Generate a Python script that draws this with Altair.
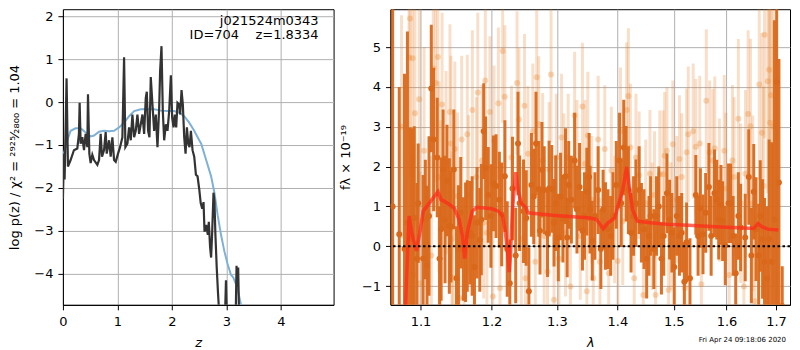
import altair as alt
import pandas as pd

FONT = "DejaVu Sans"

# ---------------- left panel: p(z) ----------------
pz_z = [0.000, 0.018, 0.031, 0.067, 0.092, 0.141, 0.202, 0.264, 0.294, 0.307,
        0.325, 0.356, 0.387, 0.417, 0.448, 0.460, 0.485, 0.509, 0.540, 0.571,
        0.632, 0.663, 0.693, 0.718, 0.755, 0.785, 0.804, 0.847, 0.877, 0.908,
        0.939, 0.969, 1.012, 1.049, 1.092, 1.123, 1.147, 1.184, 1.215, 1.245,
        1.276, 1.307, 1.337, 1.368, 1.399, 1.429, 1.460, 1.491, 1.521, 1.540,
        1.564, 1.589, 1.613, 1.644, 1.675, 1.706, 1.736, 1.767, 1.785, 1.810,
        1.834, 1.859, 1.890, 1.920, 1.951, 1.982, 2.006, 2.031, 2.055, 2.080,
        2.104, 2.135, 2.153, 2.178, 2.202, 2.227, 2.252, 2.276, 2.301, 2.325,
        2.350, 2.380, 2.411, 2.442, 2.472, 2.503, 2.530, 2.558, 2.582, 2.600,
        2.630, 2.661, 2.679, 2.703, 2.721, 2.739, 2.765, 2.782, 2.800, 2.824,
        2.848, 2.873, 2.950, 2.980, 2.994, 3.010, 3.050, 3.160, 3.175, 3.188,
        3.200, 3.218, 3.235, 3.300]
pz_logp = [-2.26, -1.20, -1.80, 0.55, -1.50, -1.35, -1.12, -1.08, -0.74, -0.02,
           -0.97, -0.82, -1.12, -0.74, -1.05, 0.18, -1.20, -1.42, -1.23, -1.35,
           -1.46, -1.35, -0.74, -1.27, -1.12, -0.70, -1.20, -0.89, -1.27, -0.82,
           -1.35, -1.39, -1.20, -1.05, -0.82, 1.04, -1.05, -0.97, -0.59, -0.89,
           -0.29, -0.82, -0.67, -0.29, -0.74, -0.52, -0.29, -0.74, 0.09, 0.24,
           -0.67, -0.82, 0.58, -0.06, -0.67, -0.29, -1.05, -0.14, 0.73, 1.30,
           -0.21, -0.89, -0.52, -0.67, -0.21, 0.62, -0.36, -0.59, -0.29, -0.59,
           -0.02, -0.06, -0.29, 0.28, -0.06, -0.82, -1.20, -0.59, -0.97, -1.05,
           -0.67, -1.12, -1.27, -1.69, -1.73, -2.03, -2.35, -2.48, -2.33, -3.02,
           -2.86, -3.09, -2.79, -3.39, -3.62, -3.09, -2.11, -2.30, -3.09, -3.85,
           -4.45, -5.00, -6.00, -4.80, -4.15, -5.00, -6.00, -6.00, -4.80, -3.81,
           -4.30, -3.85, -5.00, -6.00]

tmpl_z = [0.000, 0.018, 0.080, 0.141, 0.233, 0.325, 0.417, 0.509, 0.571, 0.663,
          0.755, 0.847, 0.939, 1.031, 1.123, 1.215, 1.307, 1.429, 1.552, 1.675,
          1.798, 1.920, 2.043, 2.135, 2.227, 2.319, 2.411, 2.503, 2.539, 2.630,
          2.721, 2.782, 2.842, 2.903, 2.964, 3.024, 3.085, 3.127, 3.176, 3.224,
          3.267, 3.350]
tmpl_logp = [-1.42, -1.20, -0.89, -0.67, -0.61, -0.61, -0.71, -0.80, -0.78, -0.69,
             -0.67, -0.68, -0.67, -0.59, -0.48, -0.33, -0.21, -0.17, -0.16, -0.17,
             -0.20, -0.21, -0.21, -0.25, -0.33, -0.48, -0.67, -0.89, -0.97, -1.35,
             -1.73, -2.11, -2.64, -3.09, -3.47, -3.77, -4.02, -4.08, -4.23, -4.45,
             -4.70, -5.40]

z_ticks = [0, 1, 2, 3, 4]
logp_ticks = [-4, -3, -2, -1, 0, 1, 2]
label_text = "j021524m0343\nID=704\u00a0\u00a0\u00a0\u00a0z=1.8334"

# ---------------- right panel: spectrum ----------------
dark_wave = [1.0632, 1.0718, 1.0787, 1.0826, 1.0861, 1.0891, 1.0917, 1.0953, 1.0970, 1.1036,
             1.1066, 1.1089, 1.1116, 1.1147, 1.1179, 1.1228, 1.1260, 1.1282, 1.1309, 1.1336,
             1.1363, 1.1396, 1.1418, 1.1459, 1.1496, 1.1524, 1.1556, 1.1593, 1.1625, 1.1649,
             1.1687, 1.1719, 1.1752, 1.1790, 1.1829, 1.1851, 1.1886, 1.1914, 1.1952, 1.1991,
             1.2029, 1.2067, 1.2116, 1.2150, 1.2198, 1.2233, 1.2272, 1.2312, 1.2361, 1.2396,
             1.2420, 1.2480, 1.2521, 1.2562, 1.2601, 1.2637, 1.2672, 1.2714, 1.2734, 1.2764,
             1.2800, 1.2852, 1.2877, 1.2919, 1.2955, 1.2981, 1.3023, 1.3059, 1.3096, 1.3138,
             1.3165, 1.3190, 1.3233, 1.3286, 1.3324, 1.3366, 1.3414, 1.3447, 1.3486, 1.3523,
             1.3539, 1.3576, 1.3620, 1.3674, 1.3719, 1.3757, 1.3797, 1.3840, 1.3885, 1.3924,
             1.3981, 1.4037, 1.4065, 1.4109, 1.4150, 1.4190, 1.4236, 1.4280, 1.4321, 1.4378,
             1.4418, 1.4464, 1.4511, 1.4552, 1.4581, 1.4639, 1.4687, 1.4728, 1.4776, 1.4817,
             1.4876, 1.4924, 1.4966, 1.5009, 1.5056, 1.5105, 1.5147, 1.5196, 1.5239, 1.5301,
             1.5411, 1.5454, 1.5497, 1.5547, 1.5598, 1.5660, 1.5703, 1.5767, 1.5811, 1.5849,
             1.5893, 1.5925, 1.5977, 1.6041, 1.6085, 1.6132, 1.6183, 1.6235, 1.6280, 1.6372,
             1.6444, 1.6496, 1.6544, 1.6590, 1.6644, 1.6676, 1.6724, 1.6764, 1.6817, 1.6858,
             1.6912, 1.6967, 1.7015, 1.7062, 1.7131]
dark_flux = [1.00, 0.30, -0.07, 0.59, 0.18, 0.26, 0.71, -0.31, 1.08, -0.31,
             0.67, -0.48, 0.76, 3.96, 2.68, 2.23, -0.31, 0.43, 1.93, 0.67,
             1.65, 0.51, 0.49, 1.93, -0.80, -0.07, 0.84, -0.07, 0.10, 0.26,
             0.34, 0.26, -0.52, 0.59, 0.16, 0.67, 2.89, 1.96, 1.29, 0.76,
             1.58, 1.51, 1.17, 0.80, 1.76, -0.07, -0.93, 1.45, -0.23, 2.58,
             1.08, 0.88, 0.71, -1.13, 1.54, 1.25, 2.58, 1.44, 0.39, 1.92,
             1.41, 0.33, 1.45, 1.44, 0.59, 1.08, 0.22, 1.25, 0.69, 1.76,
             0.22, 1.54, 1.17, 2.15, 0.92, 1.49, 0.39, 0.76, 1.37, 1.74,
             0.92, 0.14, 0.76, 1.41, -0.07, 0.92, 0.51, 0.43, 0.26, 0.76,
             1.54, 2.15, 1.08, 2.48, 1.82, 1.41, 0.34, 0.76, 1.08, 1.41,
             0.59, 0.43, -0.31, 0.26, 0.76, -0.07, 0.76, 1.00, -0.31, 0.26,
             1.33, 0.67, 0.34, -0.52, 0.76, 0.26, 0.34, -0.89, 0.10, -0.80,
             1.29, 0.26, 0.96, 0.30, 0.84, 1.49, 0.26, 1.33, 1.17, 0.67,
             1.04, 0.63, 0.02, 1.08, 1.08, 0.26, -0.68, 0.76, 0.47, 0.22,
             1.74, -0.23, 1.37, 0.43, -0.23, 0.76, 0.18, -0.39, -0.80, 0.18,
             -0.39, 0.67, 4.12, 1.60, -1.50]
dark_err = [6.0, 3.7, 4.4, 4.8, 2.8, 2.7, 2.3, 1.9, 1.5, 2.1,
            1.5, 2.0, 2.0, 1.6, 1.8, 1.5, 1.3, 1.8, 1.5, 1.6,
            1.4, 1.7, 1.4, 1.5, 1.3, 1.6, 1.4, 1.3, 1.5, 1.4,
            1.3, 1.5, 1.3, 1.4, 1.3, 1.4, 1.2, 1.3, 1.2, 1.3,
            1.2, 1.3, 1.2, 1.3, 1.4, 1.2, 1.1, 1.3, 1.2, 1.3,
            1.2, 1.3, 1.2, 1.1, 1.3, 1.2, 1.3, 1.2, 1.1, 1.2,
            1.1, 1.1, 1.2, 1.1, 1.1, 1.2, 1.1, 1.1, 1.1, 1.2,
            1.0, 1.1, 1.1, 1.2, 1.1, 1.1, 1.0, 1.1, 1.1, 1.1,
            1.1, 1.0, 1.1, 1.1, 1.0, 1.0, 1.1, 1.0, 1.0, 1.1,
            1.1, 1.2, 1.1, 1.2, 1.2, 1.1, 1.0, 1.0, 1.1, 1.1,
            1.0, 1.0, 1.0, 1.0, 1.0, 1.0, 1.0, 1.0, 0.9, 1.0,
            1.0, 1.0, 1.0, 1.0, 1.0, 1.0, 1.0, 1.0, 1.0, 1.0,
            1.0, 1.0, 1.0, 1.0, 1.0, 1.1, 1.0, 1.1, 1.0, 1.0,
            1.0, 1.0, 1.0, 1.0, 1.0, 1.0, 1.0, 1.1, 1.1, 1.1,
            1.2, 1.2, 1.2, 1.3, 1.3, 1.4, 1.5, 1.6, 1.8, 2.5,
            3.0, 5.0, 6.0, 3.1, 1.0]

light_wave = [1.0748, 1.0848, 1.0861, 1.0895, 1.0904, 1.0926, 1.0983, 1.0992, 1.1049, 1.1147,
              1.1174, 1.1206, 1.1237, 1.1251, 1.1274, 1.1295, 1.1350, 1.1404, 1.1418, 1.1432,
              1.1446, 1.1473, 1.1510, 1.1534, 1.1570, 1.1603, 1.1649, 1.1667, 1.1723, 1.1780,
              1.1800, 1.1861, 1.1886, 1.1909, 1.1933, 1.1976, 1.2020, 1.2038, 1.2102, 1.2125,
              1.2165, 1.2198, 1.2297, 1.2381, 1.2411, 1.2446, 1.2495, 1.2510, 1.2547, 1.2623,
              1.2661, 1.2683, 1.2714, 1.2775, 1.2800, 1.2852, 1.2877, 1.2908, 1.2955, 1.2992,
              1.3033, 1.3075, 1.3112, 1.3138, 1.3181, 1.3218, 1.3286, 1.3324, 1.3378, 1.3414,
              1.3458, 1.3486, 1.3502, 1.3567, 1.3593, 1.3674, 1.3703, 1.3785, 1.3852, 1.3897,
              1.3952, 1.4008, 1.4053, 1.4092, 1.4160, 1.4190, 1.4224, 1.4292, 1.4321, 1.4378,
              1.4452, 1.4494, 1.4569, 1.4609, 1.4651, 1.4669, 1.4746, 1.4805, 1.4834, 1.4876,
              1.4906, 1.4948, 1.4983, 1.5056, 1.5105, 1.5147, 1.5208, 1.5239, 1.5269, 1.5361,
              1.5411, 1.5486, 1.5516, 1.5610, 1.5674, 1.5735, 1.5773, 1.5862, 1.5957, 1.5988,
              1.6054, 1.6118, 1.6151, 1.6235, 1.6280, 1.6346, 1.6378, 1.6431, 1.6477, 1.6524,
              1.6564, 1.6656, 1.6710, 1.6744, 1.6764, 1.6831, 1.6858, 1.6878, 1.6899, 1.6948]
light_flux = [3.00, 4.74, 5.72, 4.72, -0.72, 3.34, 3.69, -0.93, 2.40, -0.23,
              4.47, 4.10, 4.75, 1.74, 0.76, 3.56, 2.10, 3.37, 2.58, 0.18,
              -0.79, 2.44, 1.26, -1.30, 2.68, -1.30, 2.81, 1.29, 3.42, 1.74,
              3.86, 2.15, 0.59, 4.16, 0.34, 3.37, -1.26, 2.64, 3.59, -1.05,
              4.90, 3.75, 2.23, 4.10, 3.18, 0.18, 3.53, -0.80, 2.32, 2.89,
              -0.39, 4.24, 3.07, 2.15, 0.26, -0.64, 1.92, 4.31, -1.34, 2.23,
              -0.31, 2.73, 1.74, 0.34, 2.23, -1.01, 3.28, 2.07, 0.26, 3.51,
              2.07, -1.13, 2.78, 1.17, -0.80, 2.68, -0.39, 2.44, -0.68, 1.90,
              0.67, -0.37, 2.89, 0.63, 3.42, 3.77, 2.48, -0.80, 2.23, 1.78,
              -1.22, 1.08, 1.82, 0.50, 1.29, -1.22, 1.81, 1.81, 2.27, 2.40,
              -1.10, 0.51, 2.56, 1.17, 2.19, 1.74, -1.05, 2.36, 2.81, 2.89,
              2.50, 2.58, -0.95, 3.65, 2.36, 2.15, 2.46, 1.41, 2.40, 1.45,
              -0.72, 2.15, 1.74, 3.20, 1.08, -1.01, 1.82, 3.32, 3.01, 1.08,
              -1.38, 4.06, 2.85, 1.51, 5.31, 4.14, 4.43, 3.10, 3.79, 3.00]
light_err = [2.8, 3.0, 3.0, 3.0, 3.0, 2.8, 2.8, 2.8, 2.6, 2.5,
             2.5, 2.5, 2.4, 2.4, 2.4, 2.3, 2.3, 2.2, 2.2, 2.2,
             2.2, 2.2, 2.1, 2.1, 2.1, 2.1, 2.0, 2.0, 2.0, 2.0,
             2.0, 1.9, 1.9, 1.9, 1.9, 1.9, 1.9, 1.9, 1.9, 1.8,
             1.8, 1.8, 1.8, 1.8, 1.8, 1.8, 1.8, 1.7, 1.7, 1.7,
             1.7, 1.7, 1.7, 1.7, 1.7, 1.7, 1.7, 1.7, 1.6, 1.6,
             1.6, 1.6, 1.6, 1.6, 1.6, 1.6, 1.6, 1.6, 1.6, 1.6,
             1.6, 1.6, 1.6, 1.6, 1.6, 1.6, 1.6, 1.6, 1.6, 1.6,
             1.6, 1.6, 1.6, 1.6, 1.7, 1.7, 1.6, 1.6, 1.6, 1.6,
             1.6, 1.6, 1.6, 1.6, 1.6, 1.6, 1.6, 1.6, 1.6, 1.6,
             1.6, 1.6, 1.6, 1.6, 1.6, 1.6, 1.6, 1.6, 1.7, 1.7,
             1.7, 1.7, 1.7, 1.8, 1.8, 1.8, 1.8, 1.8, 1.9, 1.9,
             1.9, 1.9, 2.0, 2.0, 2.0, 2.0, 2.1, 2.1, 2.2, 2.2,
             2.2, 2.4, 2.5, 2.5, 2.6, 2.8, 3.0, 3.2, 3.5, 4.0]

model_wave = [1.0790, 1.0848, 1.0891, 1.0947, 1.0992, 1.1036, 1.1102, 1.1237, 1.1281, 1.1373,
              1.1464, 1.1533, 1.1580, 1.1612, 1.1649, 1.1720, 1.1790, 1.2005, 1.2102, 1.2165,
              1.2199, 1.2234, 1.2263, 1.2282, 1.2312, 1.2361, 1.2397, 1.2446, 1.2521, 1.2547,
              1.2929, 1.3539, 1.3648, 1.3703, 1.3757, 1.3840, 1.3952, 1.4008, 1.4092, 1.4160,
              1.4206, 1.4262, 1.4348, 1.4581, 1.4876, 1.5268, 1.5797, 1.6445, 1.6544, 1.6630,
              1.6710, 1.6831, 1.7049]
model_flux = [-2.00, 0.76, 0.26, -0.11, 0.34, 0.88, 1.04, 1.37, 1.17, 1.08,
              0.96, 0.67, 0.26, -0.31, 0.34, 0.88, 0.98, 0.94, 0.88, 0.76,
              0.43, -0.07, -0.65, -0.23, 0.92, 1.86, 1.41, 1.08, 0.96, 0.84,
              0.78, 0.71, 0.67, 0.55, 0.44, 0.59, 0.71, 1.00, 1.41, 1.99,
              1.49, 0.92, 0.63, 0.59, 0.55, 0.53, 0.49, 0.45, 0.45, 0.57,
              0.49, 0.43, 0.41]

wave_ticks = [1.1, 1.2, 1.3, 1.4, 1.5, 1.6, 1.7]
flux_ticks = [-1, 0, 1, 2, 3, 4, 5]
timestamp = "Fri Apr 24 09:18:06 2020"

# ---------------- build ----------------
LW, RW, H = 271, 400, 296

pz_df = pd.DataFrame({"z": pz_z, "logp": pz_logp})
tmpl_df = pd.DataFrame({"z": tmpl_z, "logp": tmpl_logp})

zscale = alt.Scale(domain=[0, 4.97], nice=False, zero=False)
pscale = alt.Scale(domain=[-4.72, 2.16], nice=False, zero=False)
zx = alt.X("z:Q", scale=zscale,
           axis=alt.Axis(values=z_ticks, title="z", titleFontStyle="italic", format="d"))
py = alt.Y("logp:Q", scale=pscale,
           axis=alt.Axis(values=logp_ticks, format="d", titlePadding=12,
                         title="log p(z) / χ² = ²⁹²⁵⁄₂₈₀₀ = 1.04"))

blue = alt.Chart(tmpl_df).mark_line(color="#7fb1d6", strokeWidth=2, clip=True).encode(
    x=zx, y=py, order="z:Q")
black = alt.Chart(pz_df).mark_line(color="#333333", strokeWidth=2.2, clip=True).encode(
    x="z:Q", y="logp:Q", order="z:Q")
ann = alt.Chart(pd.DataFrame({"t": [label_text]})).mark_text(
    align="right", baseline="middle", fontSize=13, font=FONT, lineBreak="\n",
    lineHeight=13.5, color="black").encode(
    x=alt.value(LW - 15), y=alt.value(12), text="t:N")
left = alt.layer(blue, black, ann).properties(width=LW, height=H)

dark_df = pd.DataFrame({"w": dark_wave, "f": dark_flux, "e": dark_err})
dark_df["lo"] = dark_df["f"] - dark_df["e"]
dark_df["hi"] = dark_df["f"] + dark_df["e"]
light_df = pd.DataFrame({"w": light_wave, "f": light_flux, "e": light_err})
light_df["lo"] = light_df["f"] - light_df["e"]
light_df["hi"] = light_df["f"] + light_df["e"]
model_df = pd.DataFrame({"w": model_wave, "f": model_flux})

wscale = alt.Scale(type="log", domain=[1.0604, 1.7295], nice=False, zero=False)
fscale = alt.Scale(domain=[-1.47, 5.95], nice=False, zero=False)
wx = alt.X("w:Q", scale=wscale,
           axis=alt.Axis(values=wave_ticks, format=".1f", title="λ", titleFontStyle="italic"))

DARK = "#d9681a"
LIGHT = "#e8852f"

light_bars = alt.Chart(light_df).mark_rule(color=LIGHT, opacity=0.26, strokeWidth=3, clip=True).encode(
    x=wx,
    y=alt.Y("lo:Q", scale=fscale,
            axis=alt.Axis(values=flux_ticks, format="d", title="fλ × 10⁻¹⁹", titlePadding=9)),
    y2="hi:Q")
light_pts = alt.Chart(light_df).mark_circle(color=LIGHT, opacity=0.32, size=36, clip=True).encode(
    x="w:Q", y="f:Q")
dark_bars = alt.Chart(dark_df).mark_rule(color=DARK, opacity=0.95, strokeWidth=3, clip=True).encode(
    x="w:Q", y="lo:Q", y2="hi:Q")
dark_pts = alt.Chart(dark_df).mark_circle(color=DARK, opacity=1, size=36, clip=True).encode(
    x="w:Q", y="f:Q")
model = alt.Chart(model_df).mark_line(color="#ff2a1a", opacity=0.72, strokeWidth=3.5, clip=True).encode(
    x="w:Q", y="f:Q", order="w:Q")
zero = alt.Chart(pd.DataFrame({"f": [0.0]})).mark_rule(
    color="black", strokeWidth=2, strokeDash=[2.5, 2.5]).encode(y="f:Q")
stamp = alt.Chart(pd.DataFrame({"t": [timestamp]})).mark_text(
    align="right", baseline="middle", fontSize=7, font=FONT, color="black").encode(
    x=alt.value(RW - 4), y=alt.value(331), text="t:N")

right = alt.layer(light_bars, light_pts, dark_bars, dark_pts, model, zero, stamp).properties(
    width=RW, height=H)

chart = alt.hconcat(left, right, spacing=4).properties(
    padding={"left": 0, "top": 0, "right": 0, "bottom": 0}
).configure(font=FONT).configure_view(
    stroke="black", strokeWidth=1
).configure_axis(
    domainColor="black", tickColor="black", tickSize=5, gridColor="#b0b0b0",
    gridWidth=1, gridOpacity=1, labelFont=FONT, titleFont=FONT, labelFontSize=13,
    titleFontSize=13, labelColor="black", titleColor="black", titleFontWeight="normal",
    labelFlush=False, labelOverlap=False
).configure_axisX(labelPadding=6, titlePadding=8).configure_axisY(labelPadding=5)

chart.save("out.html", embed_options={"renderer": "svg", "actions": False})
